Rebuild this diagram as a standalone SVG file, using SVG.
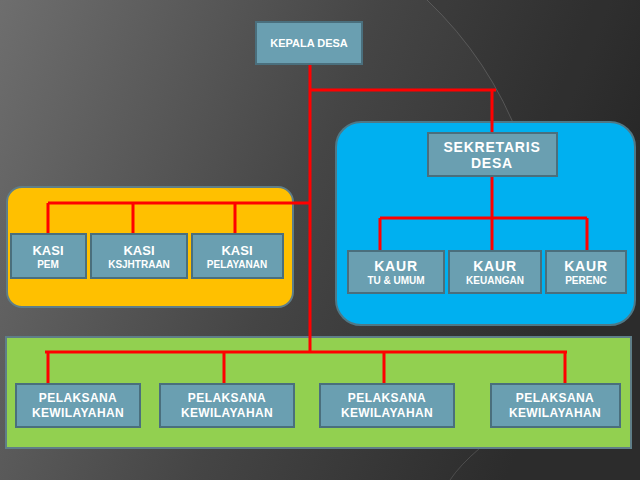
<svg xmlns="http://www.w3.org/2000/svg" width="640" height="480" viewBox="0 0 640 480">
<defs>
<linearGradient id="bg" x1="0" y1="0" x2="1" y2="0.3">
<stop offset="0" stop-color="#6e6e6e"/>
<stop offset="0.55" stop-color="#454545"/>
<stop offset="1" stop-color="#2c2c2c"/>
</linearGradient>
<style>
.box{fill:#6a9fb1;stroke:#4a6f7d;stroke-width:2}
.t{font-family:"Liberation Sans",Arial,sans-serif;font-weight:bold;fill:#ffffff;text-anchor:middle}
.big{font-size:13px}
.sm{font-size:10px}
.pl{font-size:12px;letter-spacing:0.4px}
.con{stroke:#ff0000;stroke-width:3;fill:none}
</style>
</defs>
<rect x="0" y="0" width="640" height="480" fill="url(#bg)"/>
<path d="M427,0 Q490,60 520,140 L640,140 L640,0 Z" fill="#000" opacity="0.08"/>
<path d="M427,0 Q490,60 520,140" stroke="#777" stroke-width="1" fill="none" opacity="0.5"/>
<path d="M480,448 Q460,465 450,480" stroke="#777" stroke-width="1" fill="none" opacity="0.4"/>

<g id="panels">
<rect id="panel-yellow" x="7" y="187" width="286" height="120" rx="15" fill="#ffc000" stroke="#5f7e88" stroke-width="2"/>
<rect id="panel-blue" x="336" y="122" width="299" height="203" rx="25" fill="#00b0f0" stroke="#4f7886" stroke-width="2"/>
<rect id="panel-green" x="6" y="337" width="625" height="111" fill="#92d050" stroke="#5f7e88" stroke-width="2"/>
</g>

<g id="connectors">
<path class="con" d="M310,64 V352"/>
<path class="con" d="M310,90 H496 M492,90 V133"/>
<path class="con" d="M492,176 V251 M380,218 H587 M380,218 V251 M587,218 V251"/>
<path class="con" d="M48,203 H310 M48,203 V234 M133,203 V234 M235,203 V234"/>
<path class="con" d="M45,352 H567 M48,352 V384 M224,352 V384 M384,352 V384 M565,352 V384"/>
</g>

<g id="kepala-desa">
<rect class="box" x="256" y="22" width="106" height="42"/>
<text class="t" x="309" y="47" font-size="11">KEPALA DESA</text>
</g>

<g id="sekretaris-desa">
<rect class="box" x="428" y="133" width="129" height="43"/>
<text class="t" x="492" y="152" font-size="14" letter-spacing="0.8">SEKRETARIS</text>
<text class="t" x="492" y="168" font-size="14" letter-spacing="0.8">DESA</text>
</g>

<g id="kaur-tu">
<rect class="box" x="348" y="251" width="96" height="42"/>
<text class="t" x="396" y="271" font-size="14" letter-spacing="0.8">KAUR</text>
<text class="t sm" x="396" y="284">TU &amp; UMUM</text>
</g>
<g id="kaur-keuangan">
<rect class="box" x="449" y="251" width="92" height="42"/>
<text class="t" x="495" y="271" font-size="14" letter-spacing="0.8">KAUR</text>
<text class="t sm" x="495" y="284">KEUANGAN</text>
</g>
<g id="kaur-perenc">
<rect class="box" x="546" y="251" width="80" height="42"/>
<text class="t" x="586" y="271" font-size="14" letter-spacing="0.8">KAUR</text>
<text class="t sm" x="586" y="284">PERENC</text>
</g>

<g id="kasi-pem">
<rect class="box" x="11" y="234" width="75" height="44"/>
<text class="t big" x="48" y="255">KASI</text>
<text class="t sm" x="48" y="268">PEM</text>
</g>
<g id="kasi-ksjhtraan">
<rect class="box" x="91" y="234" width="96" height="44"/>
<text class="t big" x="139" y="255">KASI</text>
<text class="t sm" x="139" y="268">KSJHTRAAN</text>
</g>
<g id="kasi-pelayanan">
<rect class="box" x="192" y="234" width="91" height="44"/>
<text class="t big" x="237" y="255">KASI</text>
<text class="t sm" x="237" y="268">PELAYANAN</text>
</g>

<g id="pelaksana-1">
<rect class="box" x="16" y="384" width="124" height="43"/>
<text class="t pl" x="78" y="402">PELAKSANA</text>
<text class="t pl" x="78" y="417">KEWILAYAHAN</text>
</g>
<g id="pelaksana-2">
<rect class="box" x="160" y="384" width="134" height="43"/>
<text class="t pl" x="227" y="402">PELAKSANA</text>
<text class="t pl" x="227" y="417">KEWILAYAHAN</text>
</g>
<g id="pelaksana-3">
<rect class="box" x="320" y="384" width="134" height="43"/>
<text class="t pl" x="387" y="402">PELAKSANA</text>
<text class="t pl" x="387" y="417">KEWILAYAHAN</text>
</g>
<g id="pelaksana-4">
<rect class="box" x="491" y="384" width="129" height="43"/>
<text class="t pl" x="555" y="402">PELAKSANA</text>
<text class="t pl" x="555" y="417">KEWILAYAHAN</text>
</g>
</svg>
